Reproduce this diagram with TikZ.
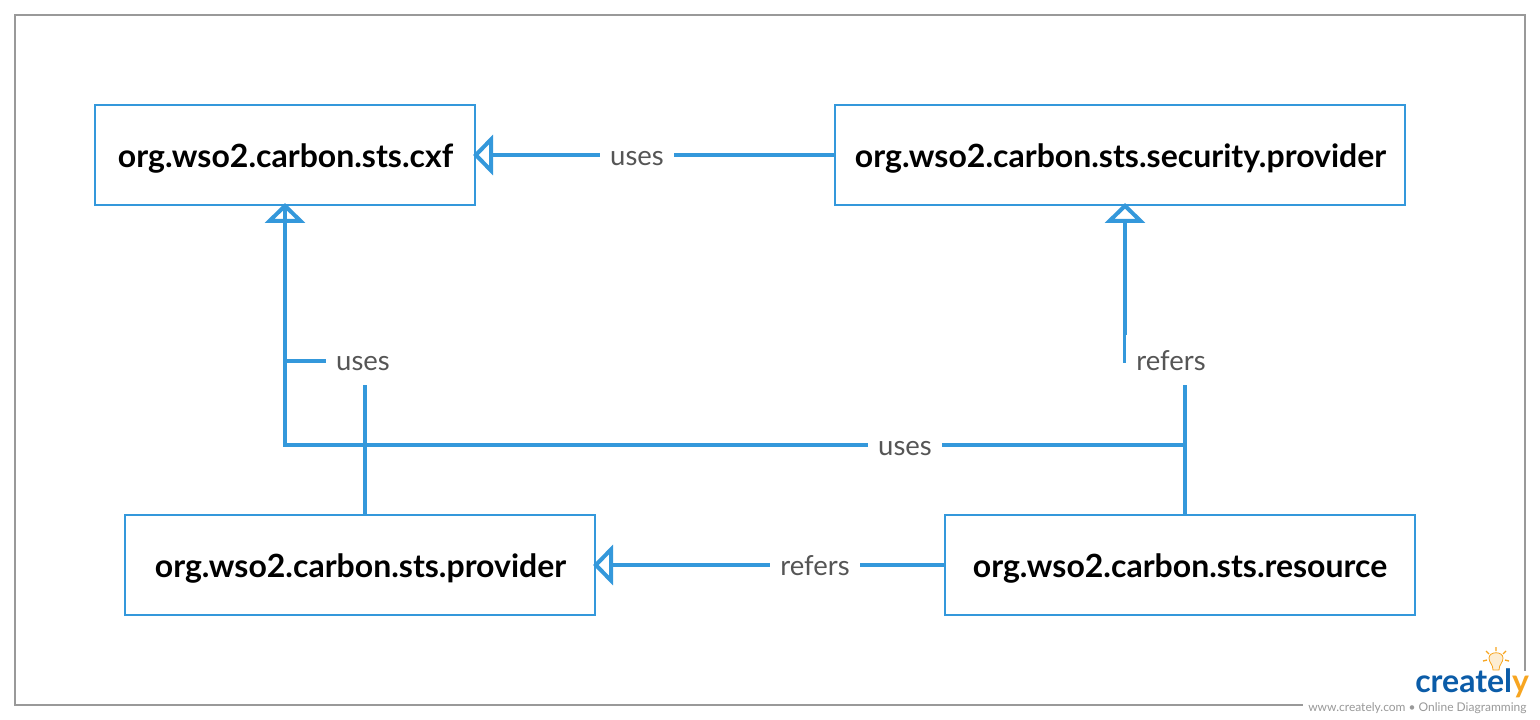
\documentclass[tikz,border=0pt]{standalone}
\usepackage{fontspec}
\setmainfont{Lato}
\usetikzlibrary{arrows.meta}
\definecolor{linkblue}{HTML}{3498DB}
\definecolor{framegray}{HTML}{999999}
\definecolor{labelgray}{HTML}{555555}
\definecolor{logoblue}{HTML}{0B5CA8}
\definecolor{logoorange}{HTML}{F7A520}
\tikzset{
  x=0.75pt,y=-0.75pt,
  modbox/.style={draw=linkblue,line width=1.5pt,fill=white,minimum height=75pt,inner sep=0pt,text=black},
  modtext/.style={font=\fontsize{24}{29}\selectfont\bfseries,text=black,inner sep=0pt,anchor=base},
  link/.style={draw=linkblue,line width=3pt},
  hollow/.style={-{Triangle[open,fill=white,length=15pt,width=30pt,line width=3pt]},shorten >=-2.25pt},
  lbl/.style={fill=white,font=\fontsize{20.6}{24}\selectfont,text=labelgray,inner xsep=7.5pt,inner ysep=0pt,minimum height=37.5pt,text height=15pt,text depth=0pt},
}
\begin{document}
\begin{tikzpicture}
\useasboundingbox (0,0) rectangle (1540,720);
\fill[white] (0,0) rectangle (1540,720);
\draw[framegray,line width=1.5pt] (15,15) rectangle (1525,705);
\node[modbox,minimum width=285pt] (cxf) at (285,155) {};
\node[modbox,minimum width=427.5pt] (sec) at (1120,155) {};
\node[modbox,minimum width=352.5pt] (prov) at (360,565) {};
\node[modbox,minimum width=352.5pt] (res) at (1180,565) {};
\node[modtext] (cxft) at (285.5,167.5) {org.wso2.carbon.sts.cxf};
\node[modtext] (sect) at (1120.5,167.5) {org.wso2.carbon.sts.security.provider};
\node[modtext] (provt) at (360.5,577) {org.wso2.carbon.sts.provider};
\node[modtext] (rest) at (1180,577) {org.wso2.carbon.sts.resource};
\draw[link,hollow] (sec.west) -- (cxf.east);
\draw[link,hollow] (res.west) -- (prov.east);
\draw[link,hollow] ([xshift=3.75pt]prov.north) |- (285,361) -- (cxf.south);
\draw[link] ([xshift=3.75pt]res.north) |- (285,445) -- (cxf.south);
\draw[link,hollow] ([xshift=3.75pt]res.north) |- (1125,361) -- ([xshift=3.75pt]sec.south);
\node[lbl] (l1) at (637,156) {uses};
\node[lbl] (l2) at (363,360) {uses};
\node[lbl] (l3) at (1171,360) {refers};
\node[lbl] (l4) at (905,445) {uses};
\node[lbl] (l5) at (815,565) {refers};
% logo
\fill[white] (1303,671) rectangle (1540,720);
\fill[white] (1527,640) rectangle (1540,672);
\node[anchor=base west,inner sep=0pt,font=\fontsize{9}{11}\selectfont,text=framegray] (url) at (1308,711) {www.creately.com • Online Diagramming};
\node[anchor=base west,inner sep=0pt,font=\fontsize{24}{30}\selectfont\bfseries,text=logoblue] (logo) at (1415,692) {createl\textcolor{logoorange}{y}};
\draw[logoorange,line width=0.6pt,fill=logoorange!20] (1493,670) .. controls (1493,664) and (1489,663) .. (1489,658) .. controls (1489,651) and (1503,651) .. (1503,658) .. controls (1503,663) and (1499,664) .. (1499,670) -- cycle;
\draw[logoorange,line width=1pt] (1496,647) -- (1496,651) (1486,651) -- (1489,654) (1506,651) -- (1503,654) (1483,661) -- (1487,660) (1509,661) -- (1505,660);
\end{tikzpicture}
\end{document}
